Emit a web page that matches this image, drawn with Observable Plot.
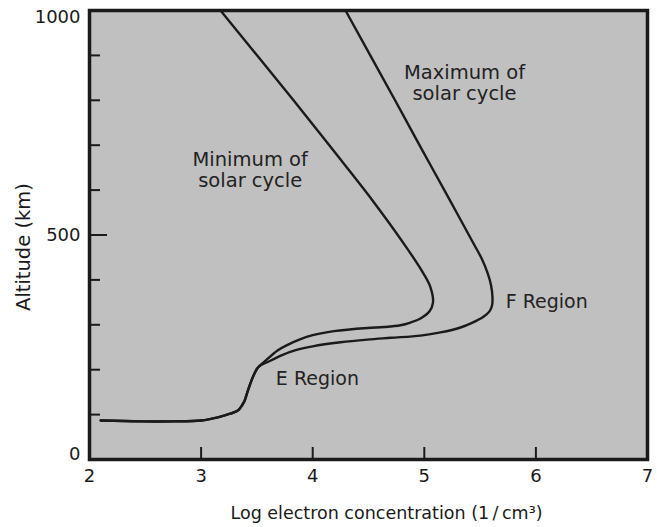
<!DOCTYPE html>
<html><head><meta charset="utf-8">
<script src="https://cdn.jsdelivr.net/npm/d3@7"></script>
<script src="https://cdn.jsdelivr.net/npm/@observablehq/plot@0.6"></script>
<style>body{margin:0;background:#fff} #chart svg{font-family:"DejaVu Sans",sans-serif}</style>
</head><body><div id="chart"></div>
<script>
// Shared lower part (D layer / E region), then each branch upward
const commonLogN = [2.10, 2.46, 2.75, 3.00, 3.15, 3.26, 3.33, 3.37, 3.39, 3.42, 3.47, 3.51];
const commonAlt  = [87,   85,   85,   87,   94,   102,  109,  122,  131,  154,  187,  205];
const minLogN = [3.56, 3.685, 3.78, 3.88, 4.00, 4.19, 4.49, 4.64, 4.787, 4.876, 4.966, 5.047, 5.078, 5.056, 4.993, 4.841, 4.536, 4.186, 3.828, 3.174];
const minAlt  = [216,  243,   256,  267,  277,  286,  293,  295,  299,   305,   314,   330,   350,   383,   414,   472,   577,   688,   800,   1000];
const maxLogN = [3.62, 3.72, 3.84, 4.00, 4.25, 4.49, 4.70, 4.966, 5.145, 5.324, 5.432, 5.53, 5.584, 5.607, 5.611, 5.598, 5.566, 5.513, 5.441, 5.23, 4.984, 4.738, 4.294];
const maxAlt  = [220,  232,  243,  252,  261,  267,  271,  276,   283,   294,   305,   318,  330,   343,   361,   388,   416,   448,   481,   577,  688,   800,   1000];
const xTicks = [2, 3, 4, 5, 6, 7];
const xInnerTicks = [3, 4, 5, 6];
const yMinorTicks = [100, 200, 300, 400, 600, 700, 800, 900];
const yMajorTick = [500];
const labelText = ["Minimum of\nsolar cycle", "Maximum of\nsolar cycle", "F Region", "E Region"];
const labelLogN = [3.44, 5.36, 5.73, 3.67];
const labelAlt  = [645, 840, 350, 180];
const xTitle = "Log electron concentration (1\u2009/\u2009cm³)";
const yTitle = "Altitude (km)";

const W = 657, H = 527, mL = 89, mR = 10, mT = 10, mB = 68;
const innerW = W - mL - mR, innerH = H - mT - mB;

const toPts = (xs, ys) => xs.map((x, i) => ({x, y: ys[i]}));
const minCurve = toPts(commonLogN.concat(minLogN), commonAlt.concat(minAlt));
const maxCurve = toPts(commonLogN.concat(maxLogN), commonAlt.concat(maxAlt));
const centered = labelText.slice(0, 2).map((t, i) => ({t, x: labelLogN[i], y: labelAlt[i]}));
const leftLabels = labelText.slice(2).map((t, i) => ({t, x: labelLogN[i + 2], y: labelAlt[i + 2]}));
const ink = "#1a1a1a";

const plot = Plot.plot({
  width: W, height: H,
  marginLeft: mL, marginRight: mR, marginTop: mT, marginBottom: mB,
  x: {domain: [2, 7]},
  y: {domain: [0, 1000], axis: null},
  style: {fontFamily: "DejaVu Sans", fontSize: "18px", background: "white", color: ink, overflow: "visible"},
  marks: [
    Plot.frame({fill: "#c0c0c0"}),
    Plot.line(minCurve, {x: "x", y: "y", curve: "catmull-rom", stroke: ink, strokeWidth: 2.4}),
    Plot.line(maxCurve, {x: "x", y: "y", curve: "catmull-rom", stroke: ink, strokeWidth: 2.4}),
    Plot.ruleX(xInnerTicks, {x: d => d, insetTop: innerH - 12, stroke: ink, strokeWidth: 2}),
    Plot.ruleY(yMinorTicks, {y: d => d, insetRight: innerW - 11, stroke: ink, strokeWidth: 2}),
    Plot.ruleY(yMajorTick, {y: d => d, insetRight: innerW - 18, stroke: ink, strokeWidth: 2}),
    Plot.axisX({ticks: xTicks, tickSize: 0, tickPadding: 10, tickFormat: d => String(d), fontSize: 18, label: null}),
    Plot.text([1000], {y: d => d, text: d => String(d), frameAnchor: "left", textAnchor: "end", lineAnchor: "top", dx: -9, fontSize: 18}),
    Plot.text([500], {y: d => d, text: d => String(d), frameAnchor: "left", textAnchor: "end", lineAnchor: "middle", dx: -9, fontSize: 18}),
    Plot.text([0], {y: d => d, text: d => String(d), frameAnchor: "left", textAnchor: "end", lineAnchor: "bottom", dx: -9, fontSize: 18}),
    Plot.text(centered, {x: "x", y: "y", text: "t", textAnchor: "middle", lineAnchor: "middle", lineHeight: 1.08, fontSize: 19.5, fill: "#222"}),
    Plot.text(leftLabels, {x: "x", y: "y", text: "t", textAnchor: "start", lineAnchor: "middle", fontSize: 19, fill: "#222"}),
    Plot.text([yTitle], {frameAnchor: "left", textAnchor: "middle", lineAnchor: "middle", rotate: -90, dx: -66, dy: 12, fontSize: 19.5}),
    Plot.text([xTitle], {frameAnchor: "bottom", textAnchor: "middle", lineAnchor: "middle", dx: 18, dy: 54, fontSize: 17.5}),
    Plot.frame({stroke: ink, strokeWidth: 3.5})
  ]
});
document.getElementById("chart").append(plot);
</script>
</body></html>
